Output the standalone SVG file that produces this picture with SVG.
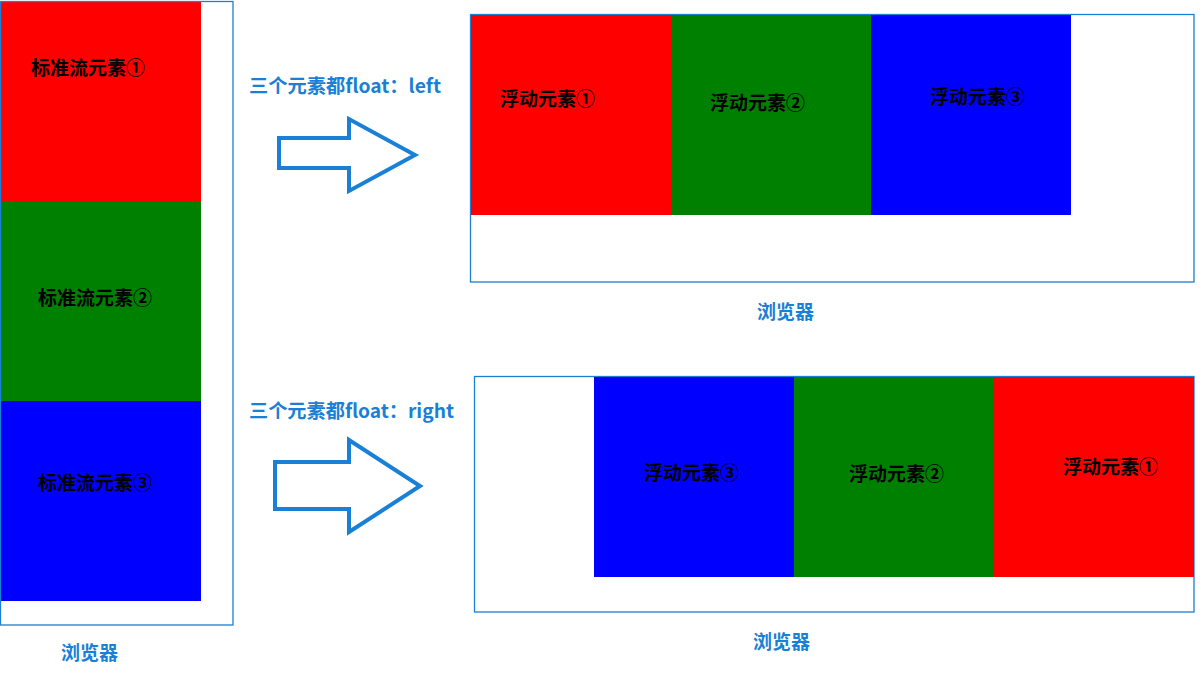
<svg xmlns="http://www.w3.org/2000/svg" width="1200" height="684" viewBox="0 0 1200 684">
<style>
.frame{fill:none;stroke:#1a80d6;stroke-width:1.3}
.t{font-family:"Noto Sans CJK SC","Noto Sans",sans-serif;font-size:19px;font-weight:bold;fill:#000}
.lbl{font-family:"Noto Sans CJK SC","Noto Sans",sans-serif;font-size:19px;font-weight:bold;fill:#1a80d6}
.arrow{fill:none;stroke:#1a80d6;stroke-width:4;stroke-linejoin:miter}
</style>
<rect width="1200" height="684" fill="#fff"/>
<g id="browser-left">
<rect x="1" y="2" width="200" height="200" fill="#f00"/>
<rect x="1" y="201" width="200" height="200" fill="#008000"/>
<rect x="1" y="401" width="200" height="200" fill="#00f"/>
<rect class="frame" x="0.5" y="1.5" width="232.5" height="623.5"/>
<text class="t" x="31" y="75">标准流元素①</text>
<text class="t" x="38" y="305">标准流元素②</text>
<text class="t" x="38" y="490">标准流元素③</text>
<text class="lbl" x="61" y="660">浏览器</text>
</g>
<g id="browser-float-left">
<rect class="frame" x="470.5" y="14.5" width="723.5" height="267.5"/>
<rect x="471" y="15" width="200" height="200" fill="#f00"/>
<rect x="671" y="15" width="200" height="200" fill="#008000"/>
<rect x="871" y="15" width="200" height="200" fill="#00f"/>
<text class="t" x="500" y="106">浮动元素①</text>
<text class="t" x="710" y="110">浮动元素②</text>
<text class="t" x="930" y="104">浮动元素③</text>
<text class="lbl" x="757" y="319">浏览器</text>
</g>
<g id="browser-float-right">
<rect class="frame" x="474.5" y="376.5" width="719.5" height="235.5"/>
<rect x="594" y="377" width="200" height="200" fill="#00f"/>
<rect x="794" y="377" width="200" height="200" fill="#008000"/>
<rect x="994" y="377" width="200" height="200" fill="#f00"/>
<text class="t" x="644" y="480">浮动元素③</text>
<text class="t" x="849" y="481">浮动元素②</text>
<text class="t" x="1063" y="474">浮动元素①</text>
<text class="lbl" x="753" y="649">浏览器</text>
</g>
<g id="connectors">
<g id="arrow-left">
<polygon class="arrow" points="279,138 349,138 349,119 415,155 349,191 349,168 279,168"/>
<text class="lbl" x="249" y="93" textLength="192" lengthAdjust="spacingAndGlyphs">三个元素都float：left</text>
</g>
<g id="arrow-right">
<polygon class="arrow" points="275,462 349,462 349,440 420,486 349,532 349,509 275,509"/>
<text class="lbl" x="249" y="418" textLength="205" lengthAdjust="spacingAndGlyphs">三个元素都float：right</text>
</g>
</g>
</svg>
